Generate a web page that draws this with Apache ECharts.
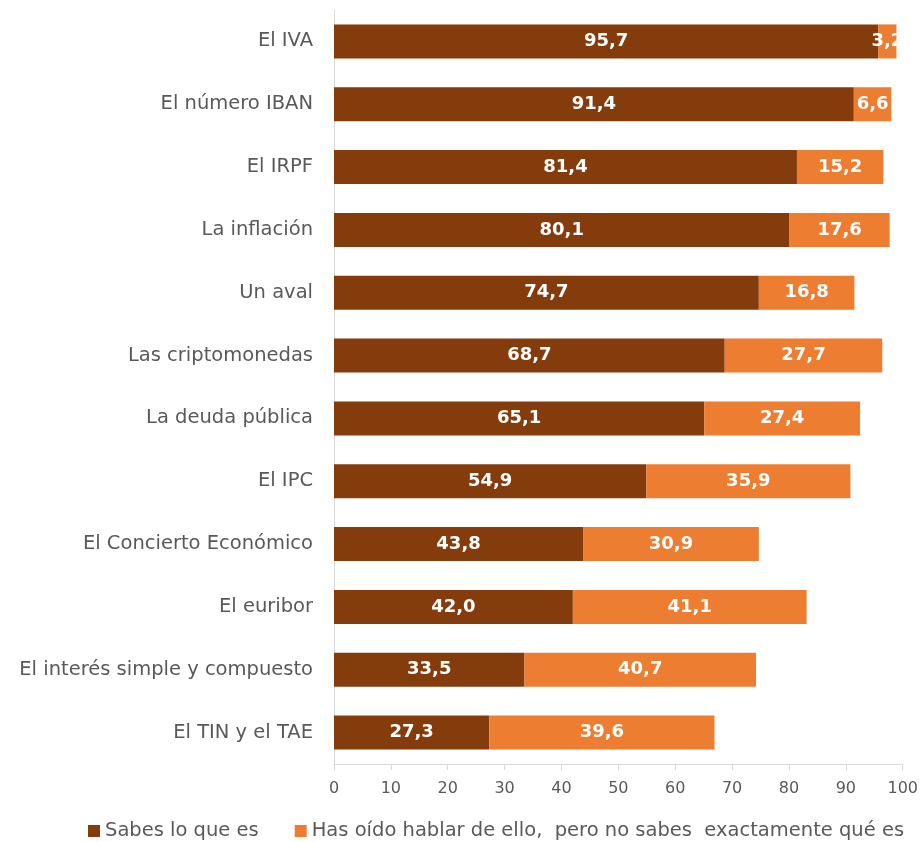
<!DOCTYPE html>
<html>
<head>
<meta charset="utf-8">
<script src="https://cdn.jsdelivr.net/npm/echarts@6/dist/echarts.min.js"></script>
<style>
    html, body { margin: 0; padding: 0; background: #fff; }
    #main { width: 921px; height: 842px; }
</style>
</head>
<body>
<div id="main"></div>
<script>
    // categorias (de arriba a abajo)
    var categories = ['El IVA', 'El número IBAN', 'El IRPF', 'La inflación', 'Un aval',
        'Las criptomonedas', 'La deuda pública', 'El IPC', 'El Concierto Económico',
        'El euribor', 'El interés simple y compuesto', 'El TIN y el TAE'];
    var sabes = [95.7, 91.4, 81.4, 80.1, 74.7, 68.7, 65.1, 54.9, 43.8, 42.0, 33.5, 27.3];
    var hasOido = [3.2, 6.6, 15.2, 17.6, 16.8, 27.7, 27.4, 35.9, 30.9, 41.1, 40.7, 39.6];
    var seriesNames = ['Sabes lo que es', 'Has oído hablar de ello,  pero no sabes  exactamente qué es'];

    var myChart = echarts.init(document.getElementById('main'));

    var fmt = function (p) {
        return p.value.toFixed(1).replace('.', ',');
    };
    var barLabel = {
        show: true,
        position: 'inside',
        color: '#fff',
        fontWeight: 'bold',
        fontSize: 18,
        fontFamily: 'DejaVu Sans',
        formatter: fmt
    };

    var option = {
        animation: false,
        grid: { left: 334, right: 18, top: 10, bottom: 78, containLabel: false },
        legend: {
            data: seriesNames,
            top: 816,
            left: 83,
            itemWidth: 12,
            itemHeight: 12,
            itemGap: 36,
            icon: 'rect',
            textStyle: { color: '#595959', fontSize: 19.5, fontFamily: 'DejaVu Sans' }
        },
        xAxis: {
            type: 'value',
            min: 0,
            max: 100,
            interval: 10,
            axisLine: { show: true, lineStyle: { color: '#d9d9d9', width: 1 } },
            axisTick: { show: true, length: 6, lineStyle: { color: '#d9d9d9' } },
            splitLine: { show: false },
            axisLabel: { color: '#595959', fontSize: 16, fontFamily: 'DejaVu Sans', margin: 17 }
        },
        yAxis: {
            type: 'category',
            inverse: true,
            data: categories,
            axisLine: { show: true, lineStyle: { color: '#d9d9d9', width: 1 } },
            axisTick: { show: false },
            axisLabel: { color: '#595959', fontSize: 19.5, fontFamily: 'DejaVu Sans', margin: 21 }
        },
        series: [
            {
                name: seriesNames[0],
                type: 'bar',
                stack: 'total',
                data: sabes,
                barWidth: 34,
                itemStyle: { color: '#843C0C' },
                label: barLabel
            },
            {
                name: seriesNames[1],
                type: 'bar',
                stack: 'total',
                data: hasOido,
                barWidth: 34,
                itemStyle: { color: '#ED7D31' },
                label: barLabel
            }
        ]
    };

    myChart.setOption(option);
</script>
</body>
</html>
